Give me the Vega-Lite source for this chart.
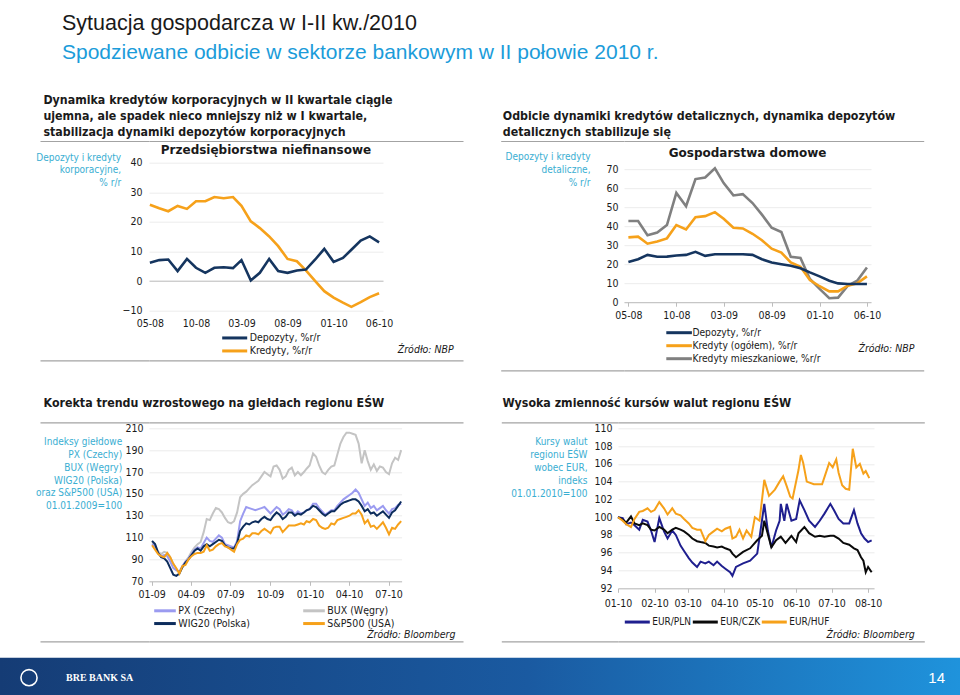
{
"$schema": "https://vega.github.io/schema/vega-lite/v6.json",
"background": "white",
"padding": {"left": 0, "right": 0, "top": 12, "bottom": 0},
"title": {"text": "Sytuacja gospodarcza w I-II kw./2010", "subtitle": "Spodziewane odbicie w sektorze bankowym w II połowie 2010 r.", "anchor": "start", "frame": "bounds", "dx": 62, "offset": 30.5, "font": "Liberation Sans", "fontSize": 21.5, "fontWeight": "normal", "color": "#1a1a1a", "subtitleFont": "Liberation Sans", "subtitleFontSize": 21, "subtitleColor": "#1b9cda", "subtitlePadding": 8},
"config": {
  "font": "DejaVu Sans Condensed",
  "view": {"stroke": null},
  "axis": {"labelFontSize": 10.5, "labelColor": "#1a1a1a", "gridColor": "#ebebeb", "domainColor": "#bdbdbd", "tickColor": "#bdbdbd", "titleFontWeight": "normal", "titleColor": "#1a1a1a", "labelOverlap": false, "labelFlush": false},
  "legend": {"labelFontSize": 10.5, "labelColor": "#1a1a1a"},
  "title": {"fontSize": 12.3, "fontWeight": "bold", "color": "#1a1a1a"}
},
"resolve": {"scale": {"color": "independent"}, "legend": {"color": "independent"}},
"spacing": 15.7,
"vconcat": [
 {"spacing": 25.3, "resolve": {"scale": {"color": "independent"}, "legend": {"color": "independent"}}, "vconcat": [
  {"spacing": 37, "resolve": {"scale": {"color": "independent"}, "legend": {"color": "independent"}}, "hconcat": [
   {"title": {"text": ["Dynamika kredytów korporacyjnych w II kwartale ciągle", "ujemna, ale spadek nieco mniejszy niż w I kwartale,", "stabilizacja dynamiki depozytów korporacyjnych"], "anchor": "start", "frame": "bounds", "dx": 7.6, "offset": 2.3, "lineHeight": 16},
    "spacing": 1.7,
    "resolve": {"scale": {"color": "independent"}, "legend": {"color": "independent"}},
    "vconcat": [
     {"width": 314, "height": 1, "data": {"values": []}, "mark": "point",
      "encoding": {"y": {"field": "v", "type": "quantitative", "scale": {"domain": [0, 1]}, "axis": {"values": [1], "labels": false, "domain": false, "grid": true, "gridColor": "#a3a3a3", "gridWidth": 1.2, "ticks": true, "tickSize": 109, "tickColor": "#a3a3a3", "tickWidth": 1.2, "title": null}}}},
     {"width": 234, "height": 148,
      "title": {"text": "Przedsiębiorstwa niefinansowe", "anchor": "middle", "frame": "group", "font": "DejaVu Sans", "fontSize": 12, "offset": -5},
      "data": {"values": [
       {"m": "2008-05-01", "Depozyty, %r/r": 6.2, "Kredyty, %r/r": 25.8},
       {"m": "2008-06-01", "Depozyty, %r/r": 7.1, "Kredyty, %r/r": 24.6},
       {"m": "2008-07-01", "Depozyty, %r/r": 7.3, "Kredyty, %r/r": 23.6},
       {"m": "2008-08-01", "Depozyty, %r/r": 3.4, "Kredyty, %r/r": 25.4},
       {"m": "2008-09-01", "Depozyty, %r/r": 7.5, "Kredyty, %r/r": 24.4},
       {"m": "2008-10-01", "Depozyty, %r/r": 4.5, "Kredyty, %r/r": 27.0},
       {"m": "2008-11-01", "Depozyty, %r/r": 2.8, "Kredyty, %r/r": 27.0},
       {"m": "2008-12-01", "Depozyty, %r/r": 4.5, "Kredyty, %r/r": 28.4},
       {"m": "2009-01-01", "Depozyty, %r/r": 4.7, "Kredyty, %r/r": 28.0},
       {"m": "2009-02-01", "Depozyty, %r/r": 4.4, "Kredyty, %r/r": 28.4},
       {"m": "2009-03-01", "Depozyty, %r/r": 7.1, "Kredyty, %r/r": 25.4},
       {"m": "2009-04-01", "Depozyty, %r/r": 0.2, "Kredyty, %r/r": 20.2},
       {"m": "2009-05-01", "Depozyty, %r/r": 2.8, "Kredyty, %r/r": 17.9},
       {"m": "2009-06-01", "Depozyty, %r/r": 7.5, "Kredyty, %r/r": 15.1},
       {"m": "2009-07-01", "Depozyty, %r/r": 3.4, "Kredyty, %r/r": 11.8},
       {"m": "2009-08-01", "Depozyty, %r/r": 2.8, "Kredyty, %r/r": 7.5},
       {"m": "2009-09-01", "Depozyty, %r/r": 3.6, "Kredyty, %r/r": 6.7},
       {"m": "2009-10-01", "Depozyty, %r/r": 3.9, "Kredyty, %r/r": 3.6},
       {"m": "2009-11-01", "Depozyty, %r/r": 7.3, "Kredyty, %r/r": 0.0},
       {"m": "2009-12-01", "Depozyty, %r/r": 10.9, "Kredyty, %r/r": -3.4},
       {"m": "2010-01-01", "Depozyty, %r/r": 6.5, "Kredyty, %r/r": -5.6},
       {"m": "2010-02-01", "Depozyty, %r/r": 7.8, "Kredyty, %r/r": -7.3},
       {"m": "2010-03-01", "Depozyty, %r/r": 10.6, "Kredyty, %r/r": -8.7},
       {"m": "2010-04-01", "Depozyty, %r/r": 13.7, "Kredyty, %r/r": -7.1},
       {"m": "2010-05-01", "Depozyty, %r/r": 15.1, "Kredyty, %r/r": -5.4},
       {"m": "2010-06-01", "Depozyty, %r/r": 13.1, "Kredyty, %r/r": -4.1}
      ]},
      "transform": [{"fold": ["Kredyty, %r/r", "Depozyty, %r/r"], "as": ["s", "v"]}],
      "mark": {"type": "line", "strokeWidth": 2.6},
      "encoding": {
       "x": {"field": "m", "type": "temporal", "scale": {"domain": [{"year": 2008, "month": 4, "date": 28}, {"year": 2010, "month": 6, "date": 14}]},
        "axis": {"values": [{"year": 2008, "month": 5, "date": 1}, {"year": 2008, "month": 10, "date": 1}, {"year": 2009, "month": 3, "date": 1}, {"year": 2009, "month": 8, "date": 1}, {"year": 2010, "month": 1, "date": 1}, {"year": 2010, "month": 6, "date": 1}],
         "format": "%m-%y", "grid": false, "domain": false, "ticks": false, "labelPadding": 7.5,
         "title": "Źródło: NBP", "titleX": 304.3, "titleY": 39, "titleAlign": "right", "titleBaseline": "middle", "titleFontStyle": "italic", "titleFontSize": 10.5}},
       "y": {"field": "v", "type": "quantitative", "scale": {"domain": [-10, 40]},
        "axis": {"values": [-10, 0, 10, 20, 30, 40], "domain": false, "ticks": false, "labelPadding": 7,
         "gridColor": {"condition": {"test": "datum.value === 0", "value": "#b8b8b8"}, "value": "#ececec"},
         "title": ["Depozyty i kredyty", "korporacyjne,", "% r/r"], "titleAngle": 0, "titleAlign": "right", "titleBaseline": "top", "titleX": -28.3, "titleY": -10.5, "titleColor": "#3aaed2", "titleFontSize": 10, "titleLineHeight": 12.7}},
       "color": {"field": "s", "type": "nominal", "scale": {"domain": ["Depozyty, %r/r", "Kredyty, %r/r"], "range": ["#15355f", "#f6a11a"]},
        "legend": {"orient": "none", "legendX": 79.2, "legendY": 168.75, "title": null, "direction": "vertical", "symbolType": "M-2.5,0H2.5", "symbolSize": 100, "symbolStrokeWidth": 3, "labelOffset": 8.5, "rowPadding": 0, "padding": 0, "labelFontSize": 10.5}}
      }
     },
     {"width": 314, "height": 1, "data": {"values": []}, "mark": "point",
      "encoding": {"y": {"field": "v", "type": "quantitative", "scale": {"domain": [0, 1]}, "axis": {"values": [0], "labels": false, "domain": false, "grid": true, "gridColor": "#a3a3a3", "gridWidth": 1.2, "ticks": true, "tickSize": 109, "tickColor": "#a3a3a3", "tickWidth": 1.2, "title": null}}}}
    ]
   },
   {"title": {"text": ["", "Odbicie dynamiki kredytów detalicznych, dynamika depozytów", "detalicznych stabilizuje się"], "anchor": "start", "frame": "bounds", "dx": 2.7, "offset": 2.3, "lineHeight": 16},
    "spacing": 4.2,
    "resolve": {"scale": {"color": "independent"}, "legend": {"color": "independent"}},
    "vconcat": [
     {"width": 299.7, "height": 1, "data": {"values": []}, "mark": "point",
      "encoding": {"y": {"field": "v", "type": "quantitative", "scale": {"domain": [0, 1]}, "axis": {"values": [1], "labels": false, "domain": false, "grid": true, "gridColor": "#a3a3a3", "gridWidth": 1.2, "ticks": true, "tickSize": 123.3, "tickColor": "#a3a3a3", "tickWidth": 1.2, "title": null}}}},
     {"width": 247, "height": 133,
      "title": {"text": "Gospodarstwa domowe", "anchor": "middle", "frame": "group", "font": "DejaVu Sans", "fontSize": 12, "offset": -8},
      "data": {"values": [
       {"m": "2008-05-01", "Depozyty, %r/r": 21.2, "Kredyty (ogółem), %r/r": 34.1, "Kredyty mieszkaniowe, %r/r": 42.7},
       {"m": "2008-06-01", "Depozyty, %r/r": 22.6, "Kredyty (ogółem), %r/r": 34.5, "Kredyty mieszkaniowe, %r/r": 42.7},
       {"m": "2008-07-01", "Depozyty, %r/r": 24.9, "Kredyty (ogółem), %r/r": 30.8, "Kredyty mieszkaniowe, %r/r": 35.3},
       {"m": "2008-08-01", "Depozyty, %r/r": 23.9, "Kredyty (ogółem), %r/r": 31.9, "Kredyty mieszkaniowe, %r/r": 36.7},
       {"m": "2008-09-01", "Depozyty, %r/r": 24.0, "Kredyty (ogółem), %r/r": 33.6, "Kredyty mieszkaniowe, %r/r": 40.6},
       {"m": "2008-10-01", "Depozyty, %r/r": 24.6, "Kredyty (ogółem), %r/r": 40.6, "Kredyty mieszkaniowe, %r/r": 57.5},
       {"m": "2008-11-01", "Depozyty, %r/r": 24.9, "Kredyty (ogółem), %r/r": 38.3, "Kredyty mieszkaniowe, %r/r": 50.5},
       {"m": "2008-12-01", "Depozyty, %r/r": 26.5, "Kredyty (ogółem), %r/r": 44.7, "Kredyty mieszkaniowe, %r/r": 64.8},
       {"m": "2009-01-01", "Depozyty, %r/r": 24.4, "Kredyty (ogółem), %r/r": 45.3, "Kredyty mieszkaniowe, %r/r": 65.6},
       {"m": "2009-02-01", "Depozyty, %r/r": 25.2, "Kredyty (ogółem), %r/r": 47.4, "Kredyty mieszkaniowe, %r/r": 70.5},
       {"m": "2009-03-01", "Depozyty, %r/r": 25.2, "Kredyty (ogółem), %r/r": 43.9, "Kredyty mieszkaniowe, %r/r": 62.7},
       {"m": "2009-04-01", "Depozyty, %r/r": 25.2, "Kredyty (ogółem), %r/r": 39.2, "Kredyty mieszkaniowe, %r/r": 56.2},
       {"m": "2009-05-01", "Depozyty, %r/r": 25.2, "Kredyty (ogółem), %r/r": 38.8, "Kredyty mieszkaniowe, %r/r": 56.9},
       {"m": "2009-06-01", "Depozyty, %r/r": 24.9, "Kredyty (ogółem), %r/r": 36.0, "Kredyty mieszkaniowe, %r/r": 52.2},
       {"m": "2009-07-01", "Depozyty, %r/r": 22.6, "Kredyty (ogółem), %r/r": 32.6, "Kredyty mieszkaniowe, %r/r": 46.1},
       {"m": "2009-08-01", "Depozyty, %r/r": 20.9, "Kredyty (ogółem), %r/r": 28.2, "Kredyty mieszkaniowe, %r/r": 39.2},
       {"m": "2009-09-01", "Depozyty, %r/r": 20.0, "Kredyty (ogółem), %r/r": 26.1, "Kredyty mieszkaniowe, %r/r": 36.9},
       {"m": "2009-10-01", "Depozyty, %r/r": 19.2, "Kredyty (ogółem), %r/r": 20.9, "Kredyty mieszkaniowe, %r/r": 23.9},
       {"m": "2009-11-01", "Depozyty, %r/r": 17.9, "Kredyty (ogółem), %r/r": 18.6, "Kredyty mieszkaniowe, %r/r": 23.3},
       {"m": "2009-12-01", "Depozyty, %r/r": 15.7, "Kredyty (ogółem), %r/r": 11.7, "Kredyty mieszkaniowe, %r/r": 12.2},
       {"m": "2010-01-01", "Depozyty, %r/r": 13.6, "Kredyty (ogółem), %r/r": 8.4, "Kredyty mieszkaniowe, %r/r": 7.0},
       {"m": "2010-02-01", "Depozyty, %r/r": 11.3, "Kredyty (ogółem), %r/r": 5.7, "Kredyty mieszkaniowe, %r/r": 2.1},
       {"m": "2010-03-01", "Depozyty, %r/r": 9.9, "Kredyty (ogółem), %r/r": 5.7, "Kredyty mieszkaniowe, %r/r": 2.4},
       {"m": "2010-04-01", "Depozyty, %r/r": 9.6, "Kredyty (ogółem), %r/r": 8.7, "Kredyty mieszkaniowe, %r/r": 8.7},
       {"m": "2010-05-01", "Depozyty, %r/r": 9.6, "Kredyty (ogółem), %r/r": 9.9, "Kredyty mieszkaniowe, %r/r": 11.3},
       {"m": "2010-06-01", "Depozyty, %r/r": 9.6, "Kredyty (ogółem), %r/r": 13.6, "Kredyty mieszkaniowe, %r/r": 18.3}
      ]},
      "transform": [{"fold": ["Kredyty mieszkaniowe, %r/r", "Kredyty (ogółem), %r/r", "Depozyty, %r/r"], "as": ["s", "v"]}],
      "mark": {"type": "line", "strokeWidth": 2.6},
      "encoding": {
       "x": {"field": "m", "type": "temporal", "scale": {"domain": [{"year": 2008, "month": 4, "date": 17}, {"year": 2010, "month": 6, "date": 14}]},
        "axis": {"values": [{"year": 2008, "month": 5, "date": 1}, {"year": 2008, "month": 10, "date": 1}, {"year": 2009, "month": 3, "date": 1}, {"year": 2009, "month": 8, "date": 1}, {"year": 2010, "month": 1, "date": 1}, {"year": 2010, "month": 6, "date": 1}],
         "format": "%m-%y", "grid": false, "domain": true, "ticks": true, "tickSize": 4, "labelPadding": 4,
         "title": "Źródło: NBP", "titleX": 290, "titleY": 46.6, "titleAlign": "right", "titleBaseline": "middle", "titleFontStyle": "italic", "titleFontSize": 10.5}},
       "y": {"field": "v", "type": "quantitative", "scale": {"domain": [0, 70]},
        "axis": {"values": [0, 10, 20, 30, 40, 50, 60, 70], "domain": false, "ticks": false, "labelPadding": 6, "gridColor": "#ececec",
         "title": ["Depozyty i kredyty", "detaliczne,", "% r/r"], "titleAngle": 0, "titleAlign": "right", "titleBaseline": "top", "titleX": -34, "titleY": -17.5, "titleColor": "#3aaed2", "titleFontSize": 10, "titleLineHeight": 12.7}},
       "color": {"field": "s", "type": "nominal", "scale": {"domain": ["Depozyty, %r/r", "Kredyty (ogółem), %r/r", "Kredyty mieszkaniowe, %r/r"], "range": ["#15355f", "#f6a11a", "#808080"]},
        "legend": {"orient": "none", "legendX": 49.6, "legendY": 158, "title": null, "direction": "vertical", "symbolType": "M-3.2,0H3.2", "symbolSize": 64, "symbolStrokeWidth": 3, "labelOffset": 7.8, "rowPadding": 0, "padding": 0, "labelFontSize": 10.2}}
      }
     },
     {"width": 299.7, "height": 1, "data": {"values": []}, "mark": "point",
      "encoding": {"y": {"field": "v", "type": "quantitative", "scale": {"domain": [0, 1]}, "axis": {"values": [0], "labels": false, "domain": false, "grid": true, "gridColor": "#a3a3a3", "gridWidth": 1.2, "ticks": true, "tickSize": 123.3, "tickColor": "#a3a3a3", "tickWidth": 1.2, "title": null}}}}
    ]
   }
  ]},
  {"spacing": 37, "resolve": {"scale": {"color": "independent"}, "legend": {"color": "independent"}}, "hconcat": [
   {"title": {"text": "Korekta trendu wzrostowego na giełdach regionu EŚW", "anchor": "start", "frame": "bounds", "dx": 8, "offset": 12.7},
    "spacing": 0,
    "resolve": {"scale": {"color": "independent"}, "legend": {"color": "independent"}},
    "vconcat": [
     {"width": 314, "height": 1, "data": {"values": []}, "mark": "point",
      "encoding": {"y": {"field": "v", "type": "quantitative", "scale": {"domain": [0, 1]}, "axis": {"values": [1], "labels": false, "domain": false, "grid": true, "gridColor": "#a3a3a3", "gridWidth": 1.2, "ticks": true, "tickSize": 109, "tickColor": "#a3a3a3", "tickWidth": 1.2, "title": null}}}},
     {"width": 252.6, "height": 153,
      "data": {"values": [
       {"d": "2009-01-02", "px": 104, "bux": 106, "wig": 107, "sp": 103},
       {"d": "2009-01-09", "px": 102, "bux": 103, "wig": 104, "sp": 99},
       {"d": "2009-01-16", "px": 96, "bux": 97, "wig": 96, "sp": 95},
       {"d": "2009-01-23", "px": 93, "bux": 95, "wig": 92, "sp": 93},
       {"d": "2009-01-30", "px": 94, "bux": 97, "wig": 91, "sp": 92},
       {"d": "2009-02-06", "px": 93, "bux": 96, "wig": 88, "sp": 96},
       {"d": "2009-02-13", "px": 88, "bux": 92, "wig": 82, "sp": 92},
       {"d": "2009-02-20", "px": 82, "bux": 86, "wig": 76, "sp": 86},
       {"d": "2009-02-27", "px": 80, "bux": 81, "wig": 75, "sp": 82},
       {"d": "2009-03-06", "px": 79, "bux": 78, "wig": 77, "sp": 77},
       {"d": "2009-03-13", "px": 84, "bux": 83, "wig": 83, "sp": 84},
       {"d": "2009-03-20", "px": 88, "bux": 88, "wig": 87, "sp": 85},
       {"d": "2009-03-27", "px": 91, "bux": 92, "wig": 90, "sp": 90},
       {"d": "2009-04-03", "px": 95, "bux": 97, "wig": 94, "sp": 93},
       {"d": "2009-04-10", "px": 99, "bux": 101, "wig": 98, "sp": 95},
       {"d": "2009-04-17", "px": 101, "bux": 104, "wig": 100, "sp": 96},
       {"d": "2009-04-24", "px": 100, "bux": 106, "wig": 98, "sp": 96},
       {"d": "2009-05-01", "px": 105, "bux": 115, "wig": 102, "sp": 97},
       {"d": "2009-05-08", "px": 110, "bux": 127, "wig": 104, "sp": 103},
       {"d": "2009-05-15", "px": 107, "bux": 126, "wig": 102, "sp": 98},
       {"d": "2009-05-22", "px": 106, "bux": 132, "wig": 104, "sp": 99},
       {"d": "2009-05-29", "px": 109, "bux": 137, "wig": 106, "sp": 102},
       {"d": "2009-06-05", "px": 112, "bux": 136, "wig": 108, "sp": 104},
       {"d": "2009-06-12", "px": 110, "bux": 133, "wig": 107, "sp": 105},
       {"d": "2009-06-19", "px": 104, "bux": 128, "wig": 103, "sp": 102},
       {"d": "2009-06-26", "px": 103, "bux": 124, "wig": 101, "sp": 101},
       {"d": "2009-07-03", "px": 102, "bux": 123, "wig": 100, "sp": 99},
       {"d": "2009-07-10", "px": 101, "bux": 125, "wig": 100, "sp": 97},
       {"d": "2009-07-17", "px": 107, "bux": 133, "wig": 105, "sp": 104},
       {"d": "2009-07-24", "px": 125, "bux": 147, "wig": 116, "sp": 108},
       {"d": "2009-07-31", "px": 132, "bux": 150, "wig": 120, "sp": 109},
       {"d": "2009-08-07", "px": 138, "bux": 152, "wig": 123, "sp": 112},
       {"d": "2009-08-14", "px": 137, "bux": 155, "wig": 122, "sp": 111},
       {"d": "2009-08-21", "px": 136, "bux": 158, "wig": 124, "sp": 114},
       {"d": "2009-08-28", "px": 135, "bux": 160, "wig": 125, "sp": 114},
       {"d": "2009-09-04", "px": 136, "bux": 162, "wig": 124, "sp": 113},
       {"d": "2009-09-11", "px": 137, "bux": 166, "wig": 127, "sp": 116},
       {"d": "2009-09-18", "px": 138, "bux": 170, "wig": 129, "sp": 118},
       {"d": "2009-09-25", "px": 135, "bux": 168, "wig": 127, "sp": 116},
       {"d": "2009-10-02", "px": 132, "bux": 166, "wig": 126, "sp": 114},
       {"d": "2009-10-09", "px": 135, "bux": 175, "wig": 130, "sp": 119},
       {"d": "2009-10-16", "px": 138, "bux": 176, "wig": 133, "sp": 120},
       {"d": "2009-10-23", "px": 136, "bux": 172, "wig": 131, "sp": 120},
       {"d": "2009-10-30", "px": 131, "bux": 164, "wig": 127, "sp": 115},
       {"d": "2009-11-06", "px": 133, "bux": 166, "wig": 129, "sp": 118},
       {"d": "2009-11-13", "px": 136, "bux": 172, "wig": 133, "sp": 121},
       {"d": "2009-11-20", "px": 135, "bux": 174, "wig": 133, "sp": 121},
       {"d": "2009-11-27", "px": 131, "bux": 167, "wig": 130, "sp": 121},
       {"d": "2009-12-04", "px": 134, "bux": 170, "wig": 132, "sp": 122},
       {"d": "2009-12-11", "px": 132, "bux": 167, "wig": 131, "sp": 123},
       {"d": "2009-12-18", "px": 133, "bux": 170, "wig": 133, "sp": 122},
       {"d": "2009-12-24", "px": 135, "bux": 173, "wig": 135, "sp": 125},
       {"d": "2009-12-31", "px": 136, "bux": 176, "wig": 136, "sp": 124},
       {"d": "2010-01-08", "px": 141, "bux": 187, "wig": 139, "sp": 127},
       {"d": "2010-01-15", "px": 141, "bux": 184, "wig": 138, "sp": 126},
       {"d": "2010-01-22", "px": 137, "bux": 176, "wig": 135, "sp": 121},
       {"d": "2010-01-29", "px": 134, "bux": 170, "wig": 132, "sp": 119},
       {"d": "2010-02-05", "px": 131, "bux": 168, "wig": 130, "sp": 118},
       {"d": "2010-02-12", "px": 133, "bux": 172, "wig": 132, "sp": 119},
       {"d": "2010-02-19", "px": 135, "bux": 175, "wig": 134, "sp": 123},
       {"d": "2010-02-26", "px": 135, "bux": 176, "wig": 134, "sp": 122},
       {"d": "2010-03-05", "px": 139, "bux": 186, "wig": 137, "sp": 126},
       {"d": "2010-03-12", "px": 142, "bux": 196, "wig": 140, "sp": 127},
       {"d": "2010-03-19", "px": 145, "bux": 202, "wig": 142, "sp": 128},
       {"d": "2010-03-26", "px": 147, "bux": 206, "wig": 143, "sp": 129},
       {"d": "2010-04-02", "px": 149, "bux": 206, "wig": 144, "sp": 130},
       {"d": "2010-04-09", "px": 151, "bux": 205, "wig": 145, "sp": 132},
       {"d": "2010-04-16", "px": 154, "bux": 204, "wig": 145, "sp": 132},
       {"d": "2010-04-23", "px": 151, "bux": 196, "wig": 143, "sp": 135},
       {"d": "2010-04-30", "px": 145, "bux": 178, "wig": 139, "sp": 131},
       {"d": "2010-05-07", "px": 139, "bux": 190, "wig": 134, "sp": 123},
       {"d": "2010-05-14", "px": 142, "bux": 180, "wig": 136, "sp": 126},
       {"d": "2010-05-21", "px": 137, "bux": 172, "wig": 132, "sp": 120},
       {"d": "2010-05-28", "px": 139, "bux": 177, "wig": 133, "sp": 121},
       {"d": "2010-06-04", "px": 135, "bux": 171, "wig": 130, "sp": 118},
       {"d": "2010-06-11", "px": 137, "bux": 175, "wig": 132, "sp": 121},
       {"d": "2010-06-18", "px": 139, "bux": 174, "wig": 134, "sp": 124},
       {"d": "2010-06-25", "px": 135, "bux": 170, "wig": 131, "sp": 119},
       {"d": "2010-07-02", "px": 132, "bux": 168, "wig": 128, "sp": 113},
       {"d": "2010-07-09", "px": 136, "bux": 178, "wig": 133, "sp": 119},
       {"d": "2010-07-16", "px": 137, "bux": 183, "wig": 135, "sp": 118},
       {"d": "2010-07-23", "px": 140, "bux": 181, "wig": 139, "sp": 122},
       {"d": "2010-07-30", "px": 141, "bux": 190, "wig": 143, "sp": 125}
      ]},
      "transform": [{"fold": ["bux", "px", "wig", "sp"], "as": ["s", "v"]}],
      "mark": {"type": "line", "strokeWidth": 2},
      "encoding": {
       "x": {"field": "d", "type": "temporal", "scale": {"domain": [{"year": 2008, "month": 12, "date": 26}, {"year": 2010, "month": 7, "date": 31}]},
        "axis": {"values": [{"year": 2009, "month": 1, "date": 1}, {"year": 2009, "month": 4, "date": 1}, {"year": 2009, "month": 7, "date": 1}, {"year": 2009, "month": 10, "date": 1}, {"year": 2010, "month": 1, "date": 1}, {"year": 2010, "month": 4, "date": 1}, {"year": 2010, "month": 7, "date": 1}],
         "format": "%m-%y", "grid": false, "domain": true, "ticks": true, "tickSize": 4, "labelPadding": 4,
         "title": "Źródło: Bloomberg", "titleX": 306, "titleY": 53.3, "titleAlign": "right", "titleBaseline": "middle", "titleFontStyle": "italic", "titleFontSize": 10.5}},
       "y": {"field": "v", "type": "quantitative", "scale": {"domain": [70, 210]},
        "axis": {"values": [70, 90, 110, 130, 150, 170, 190, 210], "domain": false, "ticks": false, "labelPadding": 6, "gridColor": "#ececec",
         "title": ["Indeksy giełdowe", "PX (Czechy)", "BUX (Węgry)", "WIG20 (Polska)", "oraz S&P500 (USA)", "01.01.2009=100"], "titleAngle": 0, "titleAlign": "right", "titleBaseline": "top", "titleX": -27.3, "titleY": 8.5, "titleColor": "#3aaed2", "titleFontSize": 10, "titleLineHeight": 12.8}},
       "color": {"field": "s", "type": "nominal", "scale": {"domain": ["px", "bux", "wig", "sp"], "range": ["#9b9bf0", "#c4c4c4", "#0c2c5c", "#f6a11a"]},
        "legend": {"orient": "none", "legendX": 9.5, "legendY": 175.75, "title": null, "direction": "horizontal", "columns": 2, "columnPadding": 46, "symbolType": "M-2.16,0H2.16", "symbolSize": 100, "symbolStrokeWidth": 3, "labelOffset": 6.8, "rowPadding": 0, "padding": 0, "labelFontSize": 10.5,
         "labelExpr": "datum.label == 'px' ? 'PX (Czechy)' : datum.label == 'bux' ? 'BUX (Węgry)' : datum.label == 'wig' ? 'WIG20 (Polska)' : 'S&P500 (USA)'"}}
      }
     },
     {"width": 314, "height": 1, "data": {"values": []}, "mark": "point",
      "encoding": {"y": {"field": "v", "type": "quantitative", "scale": {"domain": [0, 1]}, "axis": {"values": [0], "labels": false, "domain": false, "grid": true, "gridColor": "#a3a3a3", "gridWidth": 1.2, "ticks": true, "tickSize": 109, "tickColor": "#a3a3a3", "tickWidth": 1.2, "title": null}}}}
    ]
   },
   {"title": {"text": "Wysoka zmienność kursów walut regionu EŚW", "anchor": "start", "frame": "bounds", "dx": 1.7, "offset": 12.7},
    "spacing": 0,
    "resolve": {"scale": {"color": "independent"}, "legend": {"color": "independent"}},
    "vconcat": [
     {"width": 306.3, "height": 1, "data": {"values": []}, "mark": "point",
      "encoding": {"y": {"field": "v", "type": "quantitative", "scale": {"domain": [0, 1]}, "axis": {"values": [1], "labels": false, "domain": false, "grid": true, "gridColor": "#a3a3a3", "gridWidth": 1.2, "ticks": true, "tickSize": 116.7, "tickColor": "#a3a3a3", "tickWidth": 1.2, "title": null}}}},
     {"width": 256, "height": 160,
      "data": {"values": [
       {"d": "2010-01-01", "s": "EUR/PLN", "v": 100.0}, {"d": "2010-01-05", "s": "EUR/PLN", "v": 99.9}, {"d": "2010-01-08", "s": "EUR/PLN", "v": 99.2}, {"d": "2010-01-12", "s": "EUR/PLN", "v": 99.4},
       {"d": "2010-01-15", "s": "EUR/PLN", "v": 99.1}, {"d": "2010-01-19", "s": "EUR/PLN", "v": 98.6}, {"d": "2010-01-22", "s": "EUR/PLN", "v": 99.7}, {"d": "2010-01-26", "s": "EUR/PLN", "v": 99.5},
       {"d": "2010-01-29", "s": "EUR/PLN", "v": 98.5}, {"d": "2010-02-01", "s": "EUR/PLN", "v": 97.2}, {"d": "2010-02-05", "s": "EUR/PLN", "v": 99.9}, {"d": "2010-02-09", "s": "EUR/PLN", "v": 98.4},
       {"d": "2010-02-12", "s": "EUR/PLN", "v": 97.6}, {"d": "2010-02-16", "s": "EUR/PLN", "v": 98.5}, {"d": "2010-02-19", "s": "EUR/PLN", "v": 98.0}, {"d": "2010-02-23", "s": "EUR/PLN", "v": 96.8},
       {"d": "2010-02-26", "s": "EUR/PLN", "v": 96.2}, {"d": "2010-03-02", "s": "EUR/PLN", "v": 95.4}, {"d": "2010-03-05", "s": "EUR/PLN", "v": 94.9}, {"d": "2010-03-09", "s": "EUR/PLN", "v": 94.4},
       {"d": "2010-03-12", "s": "EUR/PLN", "v": 95.0}, {"d": "2010-03-16", "s": "EUR/PLN", "v": 94.8}, {"d": "2010-03-19", "s": "EUR/PLN", "v": 95.0}, {"d": "2010-03-23", "s": "EUR/PLN", "v": 94.6},
       {"d": "2010-03-26", "s": "EUR/PLN", "v": 95.0}, {"d": "2010-03-30", "s": "EUR/PLN", "v": 94.5}, {"d": "2010-04-02", "s": "EUR/PLN", "v": 94.2}, {"d": "2010-04-06", "s": "EUR/PLN", "v": 93.8},
       {"d": "2010-04-08", "s": "EUR/PLN", "v": 93.4}, {"d": "2010-04-11", "s": "EUR/PLN", "v": 94.4}, {"d": "2010-04-17", "s": "EUR/PLN", "v": 94.8}, {"d": "2010-04-23", "s": "EUR/PLN", "v": 95.1},
       {"d": "2010-04-29", "s": "EUR/PLN", "v": 95.9}, {"d": "2010-05-03", "s": "EUR/PLN", "v": 99.6}, {"d": "2010-05-05", "s": "EUR/PLN", "v": 101.5}, {"d": "2010-05-08", "s": "EUR/PLN", "v": 98.5},
       {"d": "2010-05-11", "s": "EUR/PLN", "v": 96.6}, {"d": "2010-05-15", "s": "EUR/PLN", "v": 98.5}, {"d": "2010-05-18", "s": "EUR/PLN", "v": 99.6}, {"d": "2010-05-19", "s": "EUR/PLN", "v": 101.5},
       {"d": "2010-05-22", "s": "EUR/PLN", "v": 99.6}, {"d": "2010-05-24", "s": "EUR/PLN", "v": 101.5}, {"d": "2010-05-28", "s": "EUR/PLN", "v": 99.6}, {"d": "2010-06-01", "s": "EUR/PLN", "v": 99.8},
       {"d": "2010-06-04", "s": "EUR/PLN", "v": 101.9}, {"d": "2010-06-08", "s": "EUR/PLN", "v": 100.8}, {"d": "2010-06-12", "s": "EUR/PLN", "v": 99.6}, {"d": "2010-06-17", "s": "EUR/PLN", "v": 98.9},
       {"d": "2010-06-21", "s": "EUR/PLN", "v": 99.6}, {"d": "2010-06-25", "s": "EUR/PLN", "v": 100.4}, {"d": "2010-06-30", "s": "EUR/PLN", "v": 101.5}, {"d": "2010-07-03", "s": "EUR/PLN", "v": 100.8},
       {"d": "2010-07-07", "s": "EUR/PLN", "v": 99.8}, {"d": "2010-07-11", "s": "EUR/PLN", "v": 99.3}, {"d": "2010-07-16", "s": "EUR/PLN", "v": 99.3}, {"d": "2010-07-20", "s": "EUR/PLN", "v": 100.8},
       {"d": "2010-07-23", "s": "EUR/PLN", "v": 99.3}, {"d": "2010-07-26", "s": "EUR/PLN", "v": 98.2}, {"d": "2010-07-29", "s": "EUR/PLN", "v": 97.6}, {"d": "2010-08-01", "s": "EUR/PLN", "v": 97.2},
       {"d": "2010-08-04", "s": "EUR/PLN", "v": 97.4},
       {"d": "2010-01-01", "s": "EUR/CZK", "v": 100.0}, {"d": "2010-01-05", "s": "EUR/CZK", "v": 99.7}, {"d": "2010-01-08", "s": "EUR/CZK", "v": 99.4}, {"d": "2010-01-12", "s": "EUR/CZK", "v": 100.1},
       {"d": "2010-01-15", "s": "EUR/CZK", "v": 99.3}, {"d": "2010-01-19", "s": "EUR/CZK", "v": 99.1}, {"d": "2010-01-22", "s": "EUR/CZK", "v": 99.3}, {"d": "2010-01-26", "s": "EUR/CZK", "v": 99.1},
       {"d": "2010-01-29", "s": "EUR/CZK", "v": 98.6}, {"d": "2010-02-01", "s": "EUR/CZK", "v": 98.5}, {"d": "2010-02-05", "s": "EUR/CZK", "v": 98.9}, {"d": "2010-02-09", "s": "EUR/CZK", "v": 98.6},
       {"d": "2010-02-12", "s": "EUR/CZK", "v": 98.2}, {"d": "2010-02-16", "s": "EUR/CZK", "v": 98.6}, {"d": "2010-02-19", "s": "EUR/CZK", "v": 98.8}, {"d": "2010-02-23", "s": "EUR/CZK", "v": 98.6},
       {"d": "2010-02-26", "s": "EUR/CZK", "v": 98.4}, {"d": "2010-03-02", "s": "EUR/CZK", "v": 98.0}, {"d": "2010-03-05", "s": "EUR/CZK", "v": 97.6}, {"d": "2010-03-09", "s": "EUR/CZK", "v": 97.3},
       {"d": "2010-03-12", "s": "EUR/CZK", "v": 97.2}, {"d": "2010-03-16", "s": "EUR/CZK", "v": 97.1}, {"d": "2010-03-19", "s": "EUR/CZK", "v": 96.8}, {"d": "2010-03-23", "s": "EUR/CZK", "v": 96.7},
       {"d": "2010-03-26", "s": "EUR/CZK", "v": 96.6}, {"d": "2010-03-30", "s": "EUR/CZK", "v": 96.7}, {"d": "2010-04-02", "s": "EUR/CZK", "v": 96.5}, {"d": "2010-04-06", "s": "EUR/CZK", "v": 96.3},
       {"d": "2010-04-08", "s": "EUR/CZK", "v": 95.9}, {"d": "2010-04-11", "s": "EUR/CZK", "v": 95.5}, {"d": "2010-04-17", "s": "EUR/CZK", "v": 96.1}, {"d": "2010-04-23", "s": "EUR/CZK", "v": 96.5},
       {"d": "2010-04-29", "s": "EUR/CZK", "v": 97.4}, {"d": "2010-05-03", "s": "EUR/CZK", "v": 97.9}, {"d": "2010-05-05", "s": "EUR/CZK", "v": 99.6}, {"d": "2010-05-08", "s": "EUR/CZK", "v": 98.1},
       {"d": "2010-05-11", "s": "EUR/CZK", "v": 96.6}, {"d": "2010-05-15", "s": "EUR/CZK", "v": 97.4}, {"d": "2010-05-19", "s": "EUR/CZK", "v": 97.8}, {"d": "2010-05-23", "s": "EUR/CZK", "v": 97.1},
       {"d": "2010-05-28", "s": "EUR/CZK", "v": 97.9}, {"d": "2010-06-01", "s": "EUR/CZK", "v": 97.2}, {"d": "2010-06-03", "s": "EUR/CZK", "v": 98.2}, {"d": "2010-06-08", "s": "EUR/CZK", "v": 98.9},
       {"d": "2010-06-12", "s": "EUR/CZK", "v": 98.2}, {"d": "2010-06-17", "s": "EUR/CZK", "v": 97.8}, {"d": "2010-06-21", "s": "EUR/CZK", "v": 97.9}, {"d": "2010-06-25", "s": "EUR/CZK", "v": 97.8},
       {"d": "2010-06-30", "s": "EUR/CZK", "v": 97.9}, {"d": "2010-07-03", "s": "EUR/CZK", "v": 97.9}, {"d": "2010-07-07", "s": "EUR/CZK", "v": 97.6}, {"d": "2010-07-11", "s": "EUR/CZK", "v": 97.1},
       {"d": "2010-07-16", "s": "EUR/CZK", "v": 96.9}, {"d": "2010-07-20", "s": "EUR/CZK", "v": 96.5}, {"d": "2010-07-23", "s": "EUR/CZK", "v": 96.3}, {"d": "2010-07-26", "s": "EUR/CZK", "v": 95.5},
       {"d": "2010-07-28", "s": "EUR/CZK", "v": 95.1}, {"d": "2010-07-30", "s": "EUR/CZK", "v": 93.8}, {"d": "2010-08-01", "s": "EUR/CZK", "v": 94.4}, {"d": "2010-08-04", "s": "EUR/CZK", "v": 93.8},
       {"d": "2010-01-01", "s": "EUR/HUF", "v": 100.0}, {"d": "2010-01-05", "s": "EUR/HUF", "v": 99.6}, {"d": "2010-01-08", "s": "EUR/HUF", "v": 99.2}, {"d": "2010-01-12", "s": "EUR/HUF", "v": 98.9},
       {"d": "2010-01-15", "s": "EUR/HUF", "v": 99.8}, {"d": "2010-01-19", "s": "EUR/HUF", "v": 100.6}, {"d": "2010-01-22", "s": "EUR/HUF", "v": 100.7}, {"d": "2010-01-26", "s": "EUR/HUF", "v": 101.0},
       {"d": "2010-01-29", "s": "EUR/HUF", "v": 100.6}, {"d": "2010-02-01", "s": "EUR/HUF", "v": 100.8}, {"d": "2010-02-05", "s": "EUR/HUF", "v": 101.7}, {"d": "2010-02-09", "s": "EUR/HUF", "v": 101.0},
       {"d": "2010-02-12", "s": "EUR/HUF", "v": 100.3}, {"d": "2010-02-16", "s": "EUR/HUF", "v": 101.0}, {"d": "2010-02-19", "s": "EUR/HUF", "v": 100.4}, {"d": "2010-02-23", "s": "EUR/HUF", "v": 100.2},
       {"d": "2010-02-26", "s": "EUR/HUF", "v": 99.8}, {"d": "2010-03-02", "s": "EUR/HUF", "v": 99.3}, {"d": "2010-03-05", "s": "EUR/HUF", "v": 98.8}, {"d": "2010-03-09", "s": "EUR/HUF", "v": 98.6},
       {"d": "2010-03-12", "s": "EUR/HUF", "v": 98.6}, {"d": "2010-03-16", "s": "EUR/HUF", "v": 97.3}, {"d": "2010-03-19", "s": "EUR/HUF", "v": 98.0}, {"d": "2010-03-23", "s": "EUR/HUF", "v": 98.4},
       {"d": "2010-03-26", "s": "EUR/HUF", "v": 98.7}, {"d": "2010-03-30", "s": "EUR/HUF", "v": 98.4}, {"d": "2010-04-02", "s": "EUR/HUF", "v": 98.7}, {"d": "2010-04-06", "s": "EUR/HUF", "v": 98.9},
       {"d": "2010-04-08", "s": "EUR/HUF", "v": 97.6}, {"d": "2010-04-11", "s": "EUR/HUF", "v": 97.8}, {"d": "2010-04-14", "s": "EUR/HUF", "v": 98.6}, {"d": "2010-04-17", "s": "EUR/HUF", "v": 97.6},
       {"d": "2010-04-20", "s": "EUR/HUF", "v": 98.5}, {"d": "2010-04-24", "s": "EUR/HUF", "v": 97.8}, {"d": "2010-04-27", "s": "EUR/HUF", "v": 100.0}, {"d": "2010-05-01", "s": "EUR/HUF", "v": 99.6},
       {"d": "2010-05-05", "s": "EUR/HUF", "v": 104.2}, {"d": "2010-05-09", "s": "EUR/HUF", "v": 102.4}, {"d": "2010-05-14", "s": "EUR/HUF", "v": 103.1}, {"d": "2010-05-18", "s": "EUR/HUF", "v": 104.0},
       {"d": "2010-05-21", "s": "EUR/HUF", "v": 104.6}, {"d": "2010-05-24", "s": "EUR/HUF", "v": 103.5}, {"d": "2010-05-27", "s": "EUR/HUF", "v": 102.3}, {"d": "2010-05-29", "s": "EUR/HUF", "v": 102.1},
       {"d": "2010-06-03", "s": "EUR/HUF", "v": 105.3}, {"d": "2010-06-05", "s": "EUR/HUF", "v": 107.0}, {"d": "2010-06-07", "s": "EUR/HUF", "v": 106.1}, {"d": "2010-06-10", "s": "EUR/HUF", "v": 104.0},
       {"d": "2010-06-16", "s": "EUR/HUF", "v": 103.7}, {"d": "2010-06-23", "s": "EUR/HUF", "v": 103.7}, {"d": "2010-06-26", "s": "EUR/HUF", "v": 104.9}, {"d": "2010-06-29", "s": "EUR/HUF", "v": 106.1},
       {"d": "2010-07-02", "s": "EUR/HUF", "v": 105.6}, {"d": "2010-07-05", "s": "EUR/HUF", "v": 106.5}, {"d": "2010-07-07", "s": "EUR/HUF", "v": 105.0}, {"d": "2010-07-10", "s": "EUR/HUF", "v": 103.6},
       {"d": "2010-07-13", "s": "EUR/HUF", "v": 103.2}, {"d": "2010-07-16", "s": "EUR/HUF", "v": 103.1}, {"d": "2010-07-19", "s": "EUR/HUF", "v": 107.7}, {"d": "2010-07-22", "s": "EUR/HUF", "v": 105.6},
       {"d": "2010-07-25", "s": "EUR/HUF", "v": 106.0}, {"d": "2010-07-28", "s": "EUR/HUF", "v": 104.9}, {"d": "2010-07-30", "s": "EUR/HUF", "v": 105.2}, {"d": "2010-08-02", "s": "EUR/HUF", "v": 104.4}
      ]},
      "mark": {"type": "line", "strokeWidth": 2},
      "encoding": {
       "x": {"field": "d", "type": "temporal", "scale": {"domain": [{"year": 2010, "month": 1, "date": 1}, {"year": 2010, "month": 8, "date": 6}]},
        "axis": {"values": [{"year": 2010, "month": 1, "date": 1}, {"year": 2010, "month": 2, "date": 1}, {"year": 2010, "month": 3, "date": 1}, {"year": 2010, "month": 4, "date": 1}, {"year": 2010, "month": 5, "date": 1}, {"year": 2010, "month": 6, "date": 1}, {"year": 2010, "month": 7, "date": 1}, {"year": 2010, "month": 8, "date": 1}],
         "format": "%m-%y", "grid": false, "domain": true, "ticks": true, "tickSize": 4, "labelPadding": 6,
         "title": "Źródło: Bloomberg", "titleX": 296.3, "titleY": 46, "titleAlign": "right", "titleBaseline": "middle", "titleFontStyle": "italic", "titleFontSize": 10.5}},
       "y": {"field": "v", "type": "quantitative", "scale": {"domain": [92, 110]},
        "axis": {"values": [92, 94, 96, 98, 100, 102, 104, 106, 108, 110], "domain": false, "ticks": false, "labelPadding": 6, "gridColor": "#ececec",
         "title": ["Kursy walut", "regionu EŚW", "wobec EUR,", "indeks", "01.01.2010=100"], "titleAngle": 0, "titleAlign": "right", "titleBaseline": "top", "titleX": -31, "titleY": 8, "titleColor": "#3aaed2", "titleFontSize": 10, "titleLineHeight": 13}},
       "color": {"field": "s", "type": "nominal", "scale": {"domain": ["EUR/PLN", "EUR/CZK", "EUR/HUF"], "range": ["#1f1f8f", "#0a0a0a", "#f6a11a"]},
        "legend": {"orient": "none", "legendX": 12.8, "legendY": 187, "title": null, "direction": "horizontal", "columnPadding": -5, "symbolType": "M-2.5,0H2.5", "symbolSize": 100, "symbolStrokeWidth": 3, "labelOffset": 8.5, "padding": 0, "labelFontSize": 10}}
      }
     },
     {"width": 306.3, "height": 1, "data": {"values": []}, "mark": "point",
      "encoding": {"y": {"field": "v", "type": "quantitative", "scale": {"domain": [0, 1]}, "axis": {"values": [0], "labels": false, "domain": false, "grid": true, "gridColor": "#a3a3a3", "gridWidth": 1.2, "ticks": true, "tickSize": 116.7, "tickColor": "#a3a3a3", "tickWidth": 1.2, "title": null}}}}
    ]
   }
  ]}
 ]},
 {"width": 811, "height": 40, "view": {"stroke": null},
  "resolve": {"scale": {"x": "independent"}},
  "layer": [
   {"data": {"values": [{"k": 1}]},
    "mark": {"type": "rect", "fill": {"gradient": "linear", "x1": 0, "y1": 0, "x2": 1, "y2": 0, "stops": [{"offset": 0, "color": "#153c75"}, {"offset": 0.55, "color": "#1a5aa1"}, {"offset": 1, "color": "#1f93dc"}]}},
    "encoding": {"x": {"datum": 0, "type": "quantitative", "scale": {"domain": [0, 1], "range": [-149, 811]}, "axis": null}, "x2": {"datum": 1}}},
   {"data": {"values": [{"s": "logo"}]},
    "mark": {"type": "point", "shape": "circle", "size": 260, "filled": false, "stroke": "white", "strokeWidth": 1.6, "opacity": 1},
    "encoding": {"x": {"field": "s", "type": "nominal", "scale": {"type": "point", "domain": ["logo"], "range": [-120, -120]}, "axis": null}}},
   {"data": {"values": [{"t": "BRE BANK SA", "s": "L"}]},
    "mark": {"type": "text", "align": "left", "baseline": "middle", "font": "Liberation Serif", "fontWeight": "bold", "fontSize": 10, "color": "white"},
    "encoding": {"x": {"field": "s", "type": "nominal", "scale": {"type": "point", "domain": ["L"], "range": [-83, -83]}, "axis": null}, "text": {"field": "t"}}},
   {"data": {"values": [{"t": "14", "s": "R"}]},
    "mark": {"type": "text", "align": "right", "baseline": "middle", "font": "Liberation Sans", "fontSize": 15, "color": "white"},
    "encoding": {"x": {"field": "s", "type": "nominal", "scale": {"type": "point", "domain": ["R"], "range": [796, 796]}, "axis": null}, "text": {"field": "t"}}}
  ]
 }
]
}
